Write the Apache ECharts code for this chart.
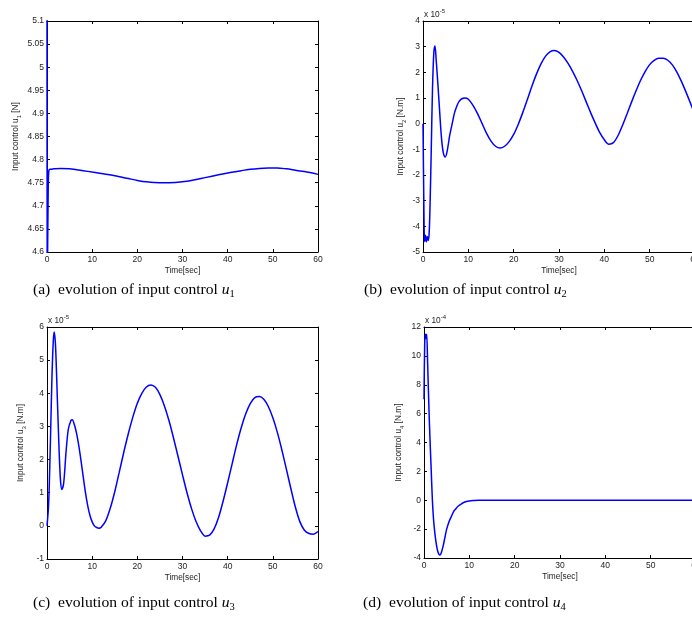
<!DOCTYPE html>
<html>
<head>
<meta charset="utf-8">
<title>Input control evolution</title>
<script src="https://cdn.jsdelivr.net/npm/echarts@6/dist/echarts.min.js"></script>
<style>
  html, body { margin: 0; padding: 0; background: #fff; }
  #chart { width: 692px; height: 617px; }
</style>
</head>
<body>
<div id="chart"></div>
<script>
// ---- Data: time [sec] and control values ----
// u1 in N
const t1 = [0, 0.05, 0.25, 0.4, 0.7, 1.5, 3, 5, 8, 10, 12, 15, 18, 20, 22, 25, 27, 30, 33, 35, 38, 40, 43, 45, 47, 49, 51, 53, 55, 57, 60];
const u1 = [5.3, 4.5, 4.72, 4.776, 4.779, 4.780, 4.781, 4.780, 4.776, 4.773, 4.770, 4.765, 4.759, 4.755, 4.752, 4.750, 4.750, 4.752, 4.757, 4.761, 4.767, 4.771, 4.776, 4.779, 4.781, 4.782, 4.782, 4.780, 4.777, 4.774, 4.768];

// u2 in units of 1e-5 N.m
const t2 = [0, 0.15, 0.35, 0.55, 0.75, 0.95, 1.15, 1.35, 1.55, 1.8, 2.1, 2.4, 2.65, 2.9, 3.3, 3.7, 4.1, 4.5, 4.9, 5.3, 5.9, 6.5, 7.0, 8.0, 9.2, 10, 11, 12, 13, 14, 15, 16, 17, 18, 19, 20, 21, 22, 23, 24, 25, 26, 27, 28, 29, 30, 31, 32, 33, 34, 35, 36, 37, 38, 39, 40, 41, 42, 43, 44, 45, 46, 47, 48, 49, 50, 51, 52, 53, 54, 55, 56, 57, 58, 59, 60];
const u2 = [0, -2.5, -4.6, -4.35, -4.6, -4.4, -4.55, -4.3, -3.2, -1.2, 1.4, 2.8, 3.03, 2.5, 1.5, 0.4, -0.6, -1.15, -1.3, -1.1, -0.45, 0.05, 0.45, 0.88, 1.0, 0.95, 0.72, 0.4, 0.02, -0.37, -0.68, -0.88, -0.95, -0.88, -0.7, -0.42, -0.03, 0.43, 0.93, 1.45, 1.92, 2.32, 2.62, 2.8, 2.85, 2.78, 2.6, 2.35, 2.04, 1.68, 1.28, 0.85, 0.42, 0.02, -0.35, -0.63, -0.8, -0.74, -0.47, -0.07, 0.38, 0.84, 1.28, 1.69, 2.03, 2.3, 2.47, 2.55, 2.55, 2.47, 2.29, 2.01, 1.65, 1.24, 0.8, 0.35];

// u3 in units of 1e-5 N.m
const t3 = [0, 0.3, 0.5, 0.8, 1.1, 1.4, 1.6, 1.9, 2.3, 2.7, 3.0, 3.3, 3.7, 4.2, 4.7, 5.3, 5.6, 6.0, 6.5, 7.0, 7.5, 8.0, 8.5, 9.0, 9.5, 10, 10.5, 11, 11.5, 12, 13, 14, 15, 16, 17, 18, 19, 20, 21, 22, 23, 24, 25, 26, 27, 28, 29, 30, 31, 32, 33, 34, 35, 36, 37, 38, 39, 40, 41, 42, 43, 44, 45, 46, 47, 48, 49, 50, 51, 52, 53, 54, 55, 56, 57, 58, 59, 60];
const u3 = [0, 0.5, 1.2, 2.8, 4.5, 5.6, 5.85, 5.4, 3.8, 2.2, 1.35, 1.1, 1.3, 2.2, 2.9, 3.18, 3.2, 3.08, 2.82, 2.45, 2.0, 1.5, 1.02, 0.62, 0.32, 0.12, 0.0, -0.05, -0.07, -0.04, 0.15, 0.53, 1.03, 1.62, 2.22, 2.78, 3.28, 3.7, 4.0, 4.19, 4.25, 4.18, 3.96, 3.62, 3.18, 2.66, 2.1, 1.54, 1.0, 0.52, 0.13, -0.15, -0.31, -0.28, -0.09, 0.26, 0.75, 1.3, 1.88, 2.45, 2.96, 3.38, 3.69, 3.87, 3.9, 3.82, 3.6, 3.26, 2.82, 2.29, 1.71, 1.12, 0.56, 0.12, -0.13, -0.23, -0.25, -0.17];

// u4 in units of 1e-4 N.m
const t4 = [0, 0.15, 0.3, 0.45, 0.6, 0.8, 1.0, 1.2, 1.4, 1.6, 1.85, 2.1, 2.4, 2.7, 3.0, 3.3, 3.5, 3.8, 4.2, 4.6, 5.0, 5.5, 6.0, 6.5, 7.0, 7.5, 8.0, 9.0, 10, 11, 12, 20, 30, 40, 50, 60];
const u4 = [7, 10.8, 11.5, 11.2, 11.5, 9.5, 7.3, 5.3, 3.6, 2.0, 0.0, -1.3, -2.3, -3.0, -3.5, -3.75, -3.8, -3.65, -3.2, -2.6, -2.0, -1.5, -1.15, -0.8, -0.6, -0.42, -0.3, -0.12, -0.05, -0.02, 0, 0, 0, 0, 0, 0];

// Axis ranges / tick settings
const xTicks = { min: 0, max: 60, interval: 10 };
const yRanges = [
  { min: 4.6, max: 5.1, interval: 0.05 },
  { min: -5, max: 4, interval: 1 },
  { min: -1, max: 6, interval: 1 },
  { min: -4, max: 12, interval: 2 }
];
const yNames = [
  ['Input control u', '1', ' [N]'],
  ['Input control u', '2', ' [N.m]'],
  ['Input control u', '3', ' [N.m]'],
  ['Input control u', '4', ' [N.m]']
];
const scaleExp = [null, '-5', '-5', '-4'];
const captionTags = ['(a)', '(b)', '(c)', '(d)'];
const xName = 'Time[sec]';

const seriesT = [t1, t2, t3, t4];
const seriesU = [u1, u2, u3, u4];

// ---- Layout ----
const panels = [
  { left: 47, top: 21, width: 271, height: 231, yGap: 25 },
  { left: 423, top: 21, width: 272, height: 231, yGap: 16 },
  { left: 47, top: 327, width: 271, height: 232, yGap: 20 },
  { left: 424, top: 327, width: 272, height: 231, yGap: 19 }
];
const captionPos = [
  { x: 33, y: 292 }, { x: 364, y: 292 },
  { x: 33, y: 605 }, { x: 363, y: 605 }
];

const FONT = 'Liberation Sans, Arial, sans-serif';
const SERIF = 'Liberation Serif, Times New Roman, serif';
const TXT = '#222';

const grid = [], xAxis = [], yAxis = [], series = [], graphic = [];

const tickStyle = { show: true, inside: true, length: 3, lineStyle: { color: '#000', width: 1 } };
const lineStyleAxis = { show: true, onZero: false, lineStyle: { color: '#000', width: 1 } };

function fmtY(v) { return String(parseFloat(v.toFixed(3))); }

panels.forEach((p, i) => {
  grid.push({ left: p.left, top: p.top, width: p.width, height: p.height, show: false, outerBoundsMode: 'none', containLabel: false });
  // bottom x
  xAxis.push({
    type: 'value', gridIndex: i, position: 'bottom', min: xTicks.min, max: xTicks.max, interval: xTicks.interval,
    axisLine: lineStyleAxis, axisTick: tickStyle, splitLine: { show: false },
    axisLabel: { show: true, fontFamily: FONT, fontSize: 8.5, color: TXT, margin: 3, showMinLabel: true, showMaxLabel: true },
    name: xName, nameLocation: 'middle', nameGap: 15,
    nameTextStyle: { fontFamily: FONT, fontSize: 8.3, color: TXT }
  });
  // top x (ticks only)
  xAxis.push({
    type: 'value', gridIndex: i, position: 'top', min: xTicks.min, max: xTicks.max, interval: xTicks.interval,
    axisLine: lineStyleAxis, axisTick: tickStyle, splitLine: { show: false }, axisLabel: { show: false }
  });
  const yr = yRanges[i];
  const nm = yNames[i];
  yAxis.push({
    type: 'value', gridIndex: i, position: 'left', min: yr.min, max: yr.max, interval: yr.interval,
    axisLine: lineStyleAxis, axisTick: tickStyle, splitLine: { show: false },
    axisLabel: { show: true, fontFamily: FONT, fontSize: 8.5, color: TXT, margin: 3, formatter: fmtY, showMinLabel: true, showMaxLabel: true },
    name: '{n|' + nm[0] + '}{s|' + nm[1] + '}{n|' + nm[2] + '}',
    nameLocation: 'middle', nameGap: p.yGap, nameRotate: 90,
    nameTextStyle: {
      fontFamily: FONT, fontSize: 8.3, color: TXT,
      rich: {
        n: { fontFamily: FONT, fontSize: 8.3, color: TXT, lineHeight: 12, verticalAlign: 'middle' },
        s: { fontFamily: FONT, fontSize: 6, color: TXT, lineHeight: 12, verticalAlign: 'bottom' }
      }
    }
  });
  yAxis.push({
    type: 'value', gridIndex: i, position: 'right', min: yr.min, max: yr.max, interval: yr.interval,
    axisLine: lineStyleAxis, axisTick: tickStyle, splitLine: { show: false }, axisLabel: { show: false }
  });

  const tt = seriesT[i], uu = seriesU[i];
  series.push({
    type: 'line', xAxisIndex: 2 * i, yAxisIndex: 2 * i,
    data: tt.map((t, k) => [t, uu[k]]),
    showSymbol: false, symbol: 'none', smooth: 0.3, clip: true,
    lineStyle: { color: '#0000ff', width: 1.5 }, silent: true, animation: false
  });

  // exponent multiplier above the y-axis
  if (scaleExp[i]) {
    graphic.push({
      type: 'text', left: p.left + 1, top: p.top - 13,
      style: {
        text: '{n|x 10}{s|' + scaleExp[i] + '}',
        rich: {
          n: { fontFamily: FONT, fontSize: 8.3, fill: TXT, lineHeight: 11, verticalAlign: 'bottom' },
          s: { fontFamily: FONT, fontSize: 6, fill: TXT, lineHeight: 11, verticalAlign: 'top' }
        }
      }
    });
  }

  // caption under the panel
  const c = captionPos[i];
  graphic.push({
    type: 'text', left: c.x, top: c.y - 10,
    style: {
      text: '{t|' + captionTags[i] + '  evolution of input control }{i|u}{s|' + (i + 1) + '}',
      rich: {
        t: { fontFamily: SERIF, fontSize: 15.6, fill: '#000', lineHeight: 20, verticalAlign: 'middle' },
        i: { fontFamily: SERIF, fontSize: 15.6, fontStyle: 'italic', fill: '#000', lineHeight: 20, verticalAlign: 'middle' },
        s: { fontFamily: SERIF, fontSize: 10.5, fill: '#000', lineHeight: 20, verticalAlign: 'bottom' }
      }
    }
  });
});

const chart = echarts.init(document.getElementById('chart'), null, { renderer: 'canvas' });
chart.setOption({
  animation: false,
  backgroundColor: '#fff',
  grid, xAxis, yAxis, series, graphic
});
</script>
</body>
</html>
